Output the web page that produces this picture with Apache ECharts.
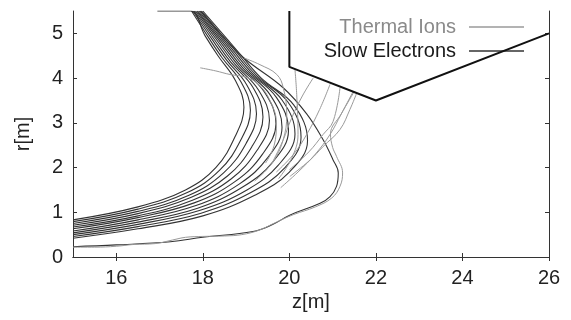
<!DOCTYPE html>
<html>
<head>
<meta charset="utf-8">
<script src="https://cdn.jsdelivr.net/npm/echarts@6/dist/echarts.min.js"></script>
<style>
html, body { margin: 0; padding: 0; background: #fff; }
#chart { width: 571px; height: 320px; }
</style>
</head>
<body>
<div id="chart"></div>
<script>
// axis ticks
const xTicks = [16, 18, 20, 22, 24, 26];
const yTicks = [0, 1, 2, 3, 4, 5];

// wall outline [z, r]
const wall = [[20, 5.5], [20, 4.25], [22, 3.5], [26, 5.0]];

// slow electron trajectories, inner to outer [z, r]
const elec0 = [[15,0.83],[16.5,1.12],[17.6,1.5],[18.3,2.0],[18.75,2.7],[18.95,3.35],[18.75,3.95],[18.35,4.5],[18.05,4.95],[17.71,5.5],[16.95,5.5]];
const elec1 = [[15,0.79],[16.5,1.07],[17.64,1.44],[18.39,1.94],[18.88,2.62],[19.1,3.28],[18.89,3.9],[18.45,4.45],[18.13,4.91],[17.74,5.5]];
const elec2 = [[15,0.75],[16.5,1.02],[17.68,1.38],[18.48,1.88],[19.0,2.54],[19.24,3.2],[19.02,3.84],[18.55,4.4],[18.21,4.87],[17.77,5.5]];
const elec3 = [[15,0.71],[16.5,0.97],[17.72,1.33],[18.57,1.81],[19.13,2.46],[19.39,3.13],[19.16,3.79],[18.65,4.35],[18.29,4.83],[17.8,5.5]];
const elec4 = [[15,0.67],[16.5,0.92],[17.76,1.27],[18.66,1.75],[19.25,2.38],[19.54,3.05],[19.29,3.73],[18.75,4.3],[18.37,4.79],[17.83,5.5]];
const elec5 = [[15,0.63],[16.5,0.88],[17.8,1.21],[18.75,1.69],[19.38,2.3],[19.69,2.98],[19.43,3.68],[18.85,4.25],[18.45,4.75],[17.86,5.5]];
const elec6 = [[15,0.58],[16.5,0.83],[17.84,1.15],[18.84,1.63],[19.5,2.22],[19.83,2.9],[19.56,3.62],[18.95,4.2],[18.53,4.71],[17.88,5.5]];
const elec7 = [[15,0.54],[16.5,0.78],[17.88,1.09],[18.93,1.57],[19.63,2.14],[19.98,2.83],[19.7,3.57],[19.05,4.15],[18.61,4.67],[17.91,5.5]];
const elec8 = [[15,0.5],[16.5,0.73],[17.92,1.04],[19.02,1.5],[19.75,2.06],[20.13,2.75],[19.83,3.51],[19.15,4.1],[18.69,4.63],[17.94,5.5]];
const elec9 = [[15,0.46],[16.5,0.68],[17.96,0.98],[19.11,1.44],[19.88,1.98],[20.27,2.68],[19.97,3.46],[19.25,4.05],[18.77,4.59],[17.97,5.5]];
const elec10 = [[15,0.42],[16.5,0.63],[18.0,0.92],[19.2,1.38],[20.0,1.9],[20.42,2.6],[20.1,3.4],[19.35,4.0],[18.85,4.55],[18.0,5.5]];
const elecLoop = [[17.95,5.5],[18.4,5.0],[18.95,4.45],[19.85,3.79],[20.4,3.2],[20.78,2.62],[21.01,2.17],[21.13,1.88],[21.09,1.58],[20.94,1.35],[20.71,1.2],[20.02,0.94],[19.6,0.72],[19.16,0.57],[18.0,0.44],[17.25,0.34],[16.0,0.27],[15,0.23]];

// thermal ion trajectories [z, r]
const ionA = [[17.94,4.23],[18.3,4.16],[18.63,4.08],[19.0,4.02],[19.3,3.85],[19.55,3.5],[19.7,3.0],[19.65,2.5],[19.45,2.1]];
const ionB = [[18.95,4.45],[19.32,4.3],[19.71,4.08],[19.86,3.78],[19.94,3.18],[19.85,2.6],[19.6,2.1],[19.2,1.7]];
const ionC = [[20.13,4.19],[20.17,3.63],[20.2,2.74],[20.05,2.2],[19.75,1.75]];
const ionD = [[20.55,4.0],[20.3,3.6],[20.05,3.1],[19.85,2.6],[19.6,2.1]];
const ionE = [[20.94,3.86],[20.7,3.3],[20.4,2.74],[20.1,2.3],[19.7,1.9]];
const ionF = [[21.17,3.78],[21.01,3.03],[20.78,2.74],[20.45,2.35],[20.0,1.95]];
const ionG = [[21.48,3.71],[21.2,3.2],[20.94,2.74],[20.6,2.3],[20.2,1.9],[19.8,1.55]];
const ionH = [[21.5,3.7],[21.2,3.2],[20.95,2.75],[21.0,2.45],[21.09,2.25],[21.23,1.88],[21.17,1.58],[20.98,1.32],[20.6,1.12],[20.1,0.95],[19.7,0.78],[19.3,0.6],[18.9,0.5],[18.5,0.47],[18.0,0.46],[17.6,0.44],[17.3,0.38],[16.9,0.3],[16.4,0.28],[16.0,0.24],[15.5,0.22],[15,0.22]];
const ionI = [[20.01,1.8],[20.48,2.17],[20.78,2.47],[21.17,2.85],[21.4,3.3],[21.55,3.65]];

const electrons = [elec0, elec1, elec2, elec3, elec4, elec5, elec6, elec7, elec8, elec9, elec10, elecLoop];
const ions = [ionA, ionB, ionC, ionD, ionE, ionF, ionG, ionH, ionI];

const font = 'Liberation Sans, Arial, sans-serif';

function track(name, data, color, width) {
    return {
        name: name,
        type: 'line',
        data: data,
        symbol: 'none',
        smooth: 0.4,
        clip: true,
        lineStyle: { color: color, width: width },
        itemStyle: { color: color },
        z: name == 'Thermal Ions' ? 3 : 2
    };
}

let series = [];
ions.forEach(d => series.push(track('Thermal Ions', d, '#9a9a9a', 1)));
electrons.forEach(d => series.push(track('Slow Electrons', d, '#333', 1.1)));
series.push({
    name: 'wall',
    type: 'line',
    data: wall,
    symbol: 'none',
    lineStyle: { color: '#111', width: 2 },
    z: 4
});

const mirrorAxis = {
    axisLine: { show: true, lineStyle: { color: '#333', width: 1 } },
    axisLabel: { show: false },
    splitLine: { show: false }
};

let option = {
    animation: false,
    backgroundColor: '#fff',
    grid: { left: 73, right: 22, top: 11, bottom: 63 },
    legend: {
        orient: 'vertical',
        right: 42,
        top: 12,
        align: 'right',
        itemWidth: 55,
        itemHeight: 1.5,
        itemGap: 4,
        textStyle: { fontFamily: font, fontSize: 20, lineHeight: 20, padding: [0, 8, 0, 0] },
        data: [
            { name: 'Thermal Ions', icon: 'rect', textStyle: { color: '#8a8a8a' } },
            { name: 'Slow Electrons', icon: 'rect', textStyle: { color: '#1a1a1a' } }
        ]
    },
    xAxis: [{
        type: 'value',
        min: 15,
        max: 26,
        name: 'z[m]',
        nameLocation: 'middle',
        nameGap: 34,
        nameTextStyle: { fontFamily: font, fontSize: 20, color: '#222' },
        axisLine: { show: true, lineStyle: { color: '#333', width: 1 } },
        axisTick: { show: true, inside: true, length: 4, customValues: xTicks, lineStyle: { color: '#333' } },
        axisLabel: { customValues: xTicks, margin: 11, fontFamily: font, fontSize: 20, color: '#222' },
        splitLine: { show: false }
    }, Object.assign({}, mirrorAxis, {
        type: 'value', position: 'top', min: 15, max: 26,
        axisTick: { show: true, inside: true, length: 4, customValues: xTicks, lineStyle: { color: '#333' } }
    })],
    yAxis: [{
        type: 'value',
        min: 0,
        max: 5.5,
        name: 'r[m]',
        nameLocation: 'middle',
        nameRotate: 90,
        nameGap: 40,
        nameTextStyle: { fontFamily: font, fontSize: 20, color: '#222' },
        axisLine: { show: true, lineStyle: { color: '#333', width: 1 } },
        axisTick: { show: true, inside: true, length: 4, customValues: yTicks, lineStyle: { color: '#333' } },
        axisLabel: { customValues: yTicks, margin: 10, fontFamily: font, fontSize: 20, color: '#222' },
        splitLine: { show: false }
    }, Object.assign({}, mirrorAxis, {
        type: 'value', position: 'right', min: 0, max: 5.5,
        axisTick: { show: true, inside: true, length: 4, customValues: yTicks, lineStyle: { color: '#333' } }
    })],
    series: series
};

let chart = echarts.init(document.getElementById('chart'));
chart.setOption(option);
</script>
</body>
</html>
